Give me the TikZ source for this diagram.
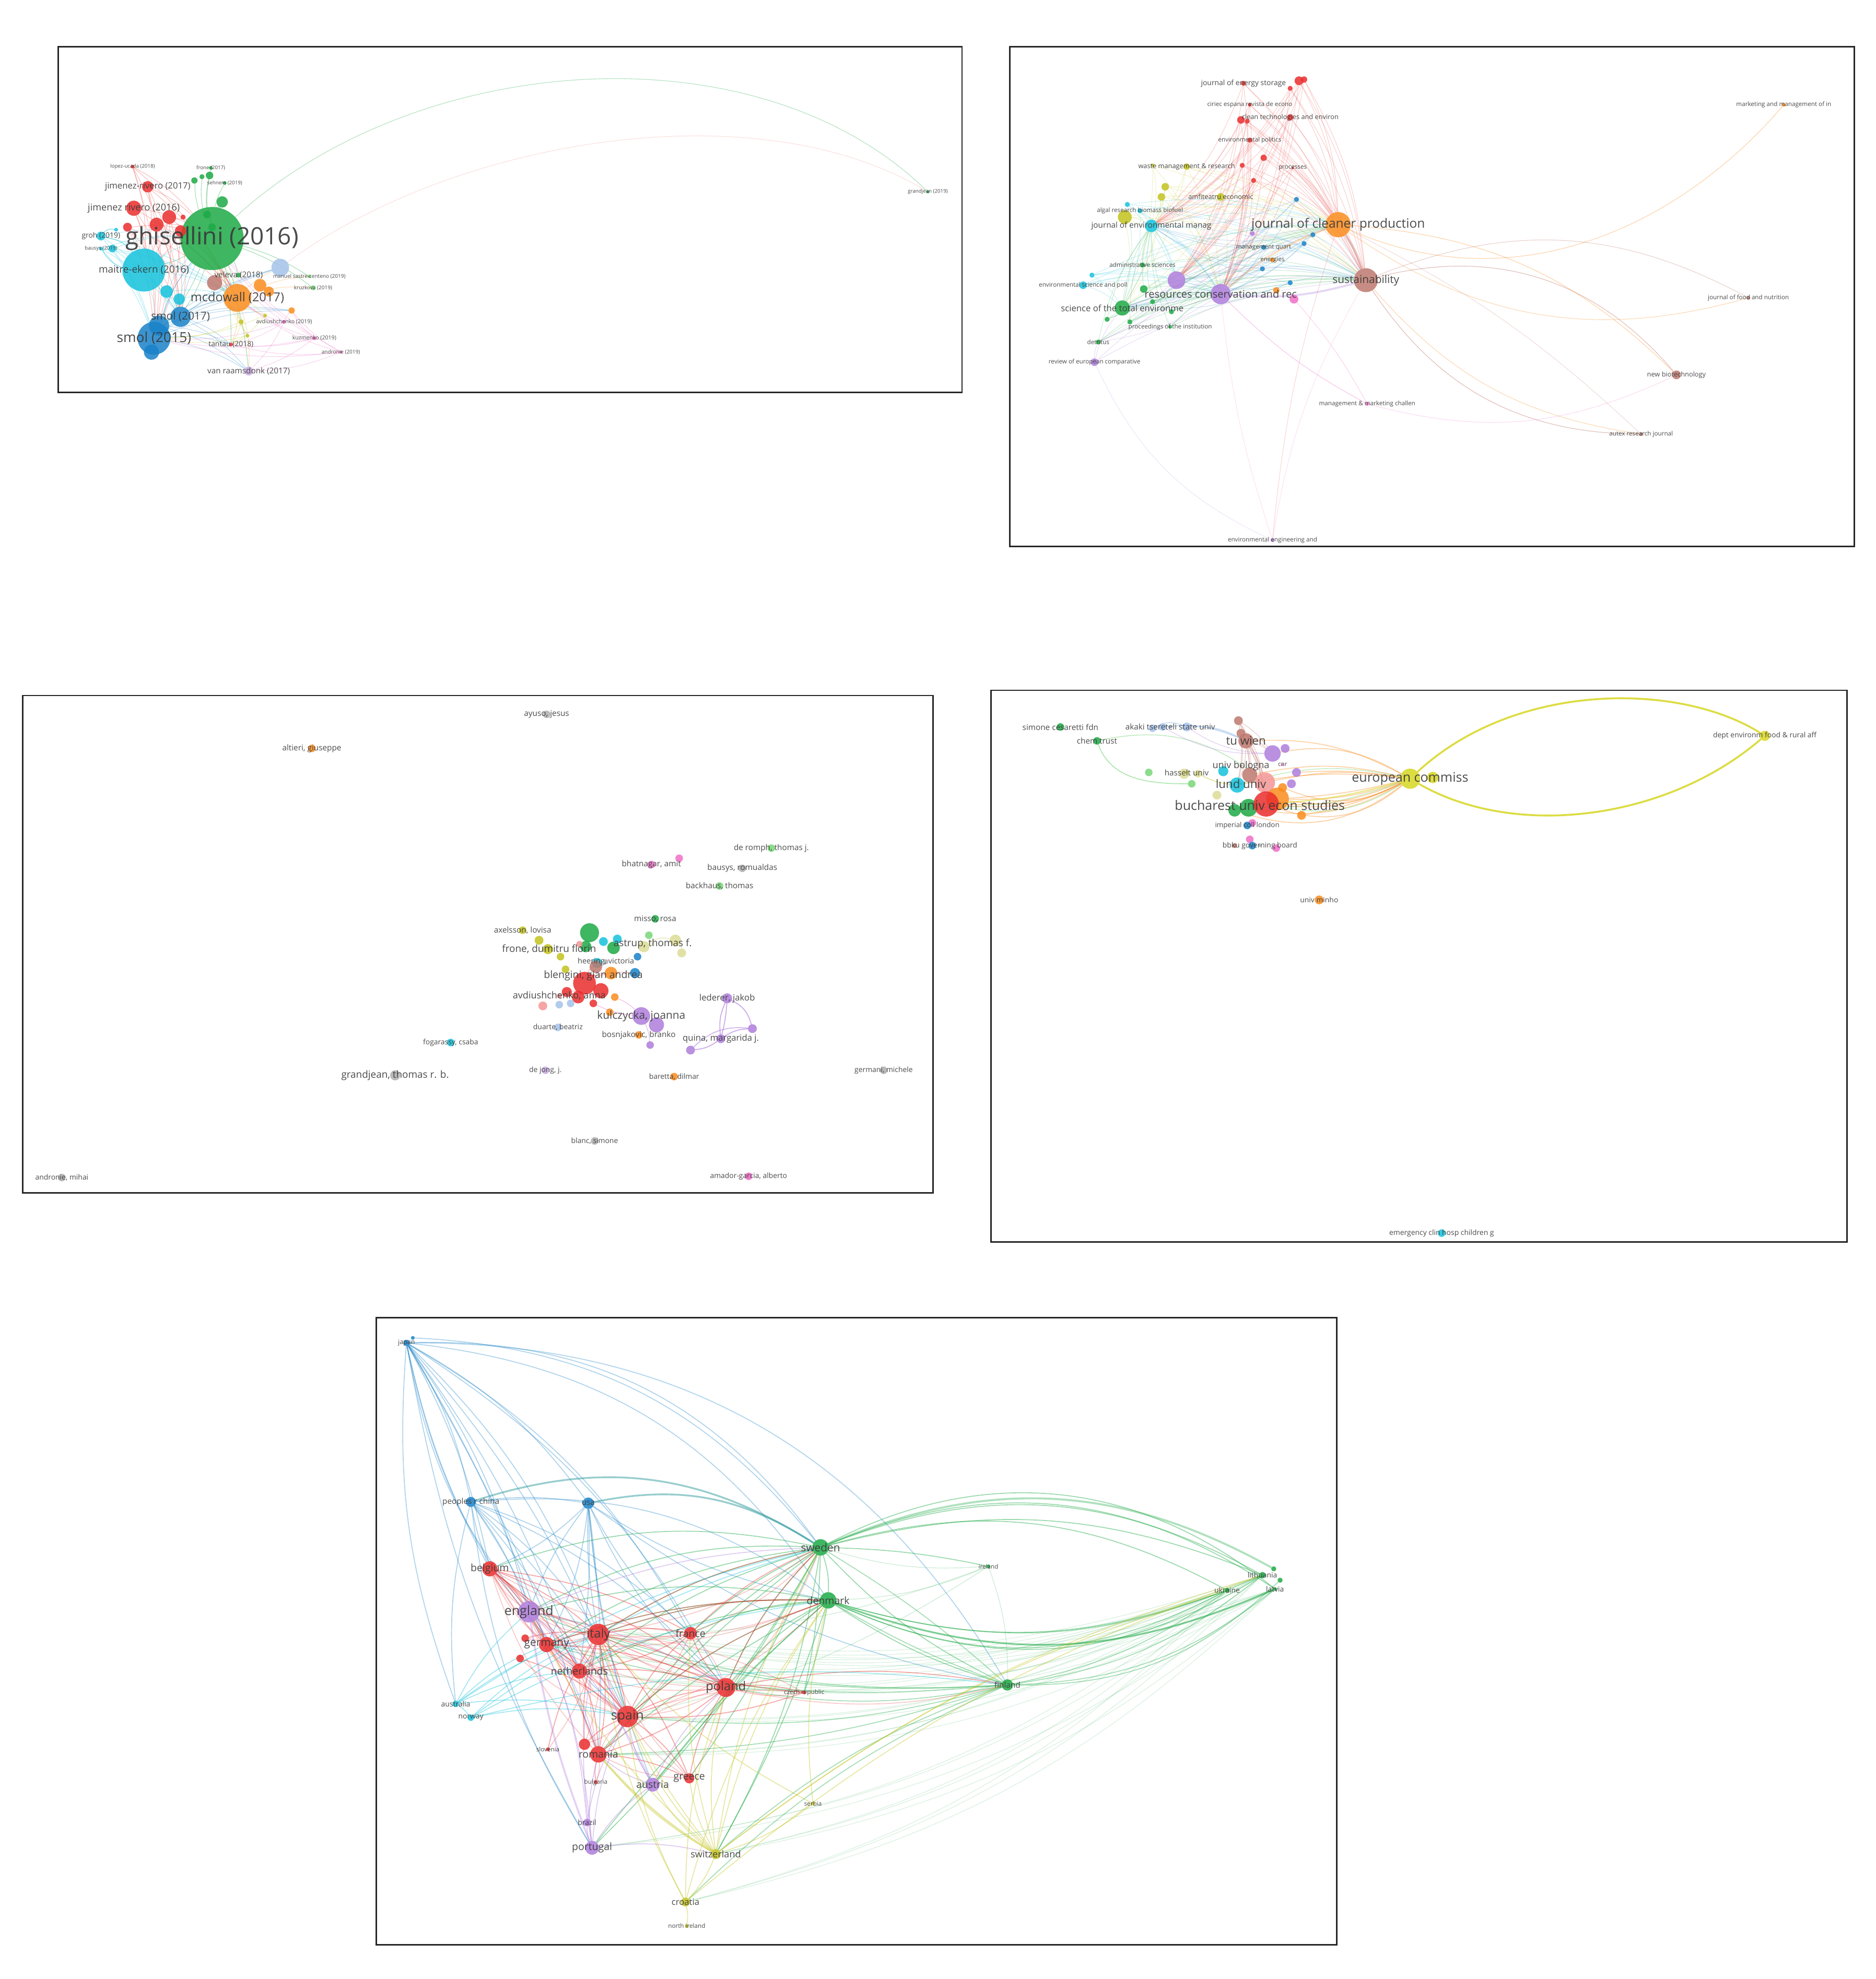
\documentclass[tikz,border=0pt]{standalone}
\usepackage{fontspec}
\setmainfont{Open Sans}
\usepackage{etoolbox}
\usetikzlibrary{backgrounds}
\definecolor{vred}{RGB}{235,45,45}
\definecolor{vgreen}{RGB}{30,170,70}
\definecolor{vblue}{RGB}{25,130,200}
\definecolor{vcyan}{RGB}{20,195,220}
\definecolor{vyellow}{RGB}{195,195,30}
\definecolor{vbyellow}{RGB}{215,215,35}
\definecolor{vpurple}{RGB}{175,125,220}
\definecolor{vlightpurple}{RGB}{200,170,225}
\definecolor{vorange}{RGB}{250,140,30}
\definecolor{vbrown}{RGB}{190,120,110}
\definecolor{vpink}{RGB}{240,110,200}
\definecolor{vlightblue}{RGB}{165,195,235}
\definecolor{vlightgreen}{RGB}{120,215,120}
\definecolor{vgray}{RGB}{175,175,175}
\definecolor{vpaleyellow}{RGB}{220,220,150}
\definecolor{vlightred}{RGB}{245,150,150}
\newcommand{\vf}[1]{\fontsize{\fpeval{1.15*#1}}{\fpeval{1.2*#1}}\selectfont}
\newcommand{\alllabels}{}
\newcommand{\vn}[6][5]{\node[vdot,fill=#5,minimum size=#4pt] (#2) at (#3) {};\gappto\alllabels{\node[vlab,font=\vf{#1}] (#2-l) at (#2) {#6};}}
\newcommand{\vd}[4]{\node[vdot,fill=#4,minimum size=#3pt] (#1) at (#2) {};}
\begin{document}
\begin{tikzpicture}[x=1pt,y=-1pt,
  vdot/.style={circle,inner sep=0pt,outer sep=0pt,draw=none,fill opacity=0.85},
  vlab/.style={text=black!78,inner sep=0pt,text opacity=0.9},
  ed/.style={line width=0.45pt,draw opacity=0.3},
  e5/.style={line width=0.7pt,draw opacity=0.35},
  pframe/.style={draw=black!85,line width=1.1pt}]
\useasboundingbox (0,0) rectangle (1486,1568);
% ---------------- Panel 1 ----------------
\vn[16.5]{gh}{168,189}{50}{vgreen}{ghisellini (2016)}
\vn[6.8]{me}{114,214}{34}{vcyan}{maitre-ekern (2016)}
\vd{s15b}{126,258}{16}{vblue}
\vd{s15c}{120,279}{12}{vblue}
\vn[9.5]{s15}{122,268}{26}{vblue}{smol (2015)}
\vn[7.5]{s17}{143,251}{16}{vblue}{smol (2017)}
\vn[8.5]{mcd}{188,236}{22}{vorange}{mcdowall (2017)}
\vd{o1a}{206,226}{10}{vorange}
\vd{o1b}{213,231}{8}{vorange}
\vd{o1c}{231,246}{5}{vorange}
\vd{br1}{170,224}{12}{vbrown}
\vn[5.5]{vel}{189,218}{4}{vgreen}{veleva (2018)}
\vd{lb1}{222,212}{14}{vlightblue}
\vn[3.6]{msc}{245,219}{3}{vlightgreen}{manuel sastre-centeno (2019)}
\vn[3.6]{kru}{248,228}{4}{vlightgreen}{kruzkova (2019)}
\vd{c1a}{132,231}{10}{vcyan}
\vd{c1b}{142,237}{9}{vcyan}
\vn[6]{jr17}{117,148}{9}{vred}{jimenez-rivero (2017)}
\vn[6.5]{jr16}{106,165}{12}{vred}{jimenez rivero (2016)}
\vd{r1a}{134,172}{11}{vred}
\vd{r1b}{124,178}{11}{vred}
\vd{r1c}{101,180}{7}{vred}
\vd{r1d}{143,183}{9}{vred}
\vd{r1e}{145,172}{4}{vred}
\vd{g1a}{176,160}{9}{vgreen}
\vd{g1b}{164,170}{6}{vgreen}
\vd{g1c}{168,180}{6}{vgreen}
\vd{g1d}{154,143}{5}{vgreen}
\vd{g1e}{160,140}{4}{vgreen}
\vd{g1f}{166,139}{6}{vgreen}
\vn[3.5]{fro}{167,133}{3}{vgreen}{frone (2017)}
\vn[3.5]{p1d}{178,145}{3}{vgreen}{sehnem (2019)}
\vn[3.5]{lop}{105,132}{3}{vred}{lopez-ucada (2018)}
\vn[5]{gro}{80,187}{7}{vcyan}{groh (2019)}
\vd{c1d}{92,182}{3}{vcyan}
\vn[3.5]{bau}{80,197}{3}{vcyan}{bausys (2019)}
\vd{c1e}{89,197}{6}{vcyan}
\vn[3.8]{avd}{225,255}{3}{vpink}{avdiushchenko (2019)}
\vn[3.8]{kuz}{249,268}{3}{vpink}{kuzmenko (2019)}
\vn[3.6]{andr1}{270,279}{2.5}{vpink}{andronie (2019)}
\vn[5]{tan}{183,273}{3}{vred}{tantau (2018)}
\vn[5.5]{vr}{197,294}{7}{vlightpurple}{van raamsdonk (2017)}
\vd{y1a}{191,255}{4}{vyellow}
\vd{y1b}{196,266}{3}{vyellow}
\vd{y1c}{210,250}{3}{vyellow}
\vn[3.5]{gj}{735,152}{2.5}{vgreen}{grandjean (2019)}
% ---------------- Panel 2 ----------------
\vn[8.8]{jcp}{1060,178}{20}{vorange}{journal of cleaner production}
\vn[7.5]{sus}{1082,222}{19}{vbrown}{sustainability}
\vd{pu2b}{932,222}{14}{vpurple}
\vn[7.2]{rcr}{967,233}{16}{vpurple}{resources conservation and rec}
\vn[6]{stoe}{889,244}{12}{vgreen}{science of the total environme}
\vd{y2d}{891,172}{11}{vyellow}
\vn[5.5]{jem}{912,179}{10}{vcyan}{journal of environmental manag}
\vn[4.2]{alg}{903,167}{4}{vcyan}{algal research biomass biofuel}
\vd{cy2c}{893,162}{4}{vcyan}
\vn[4.6]{wmr}{940,132}{5}{vyellow}{waste management \& research}
\vn[4.6]{amf}{967,156}{6}{vyellow}{amfiteatru economic}
\vd{y2a}{923,148}{6}{vyellow}
\vd{y2b}{920,156}{6}{vyellow}
\vd{y2c}{913,131}{3}{vyellow}
\vn[5]{jes}{985,66}{4}{vred}{journal of energy storage}
\vd{jesb}{1029,64}{7}{vred}
\vd{jesc}{1022,70}{4}{vred}
\vd{jesd}{1033,63}{5}{vred}
\vn[4.2]{cir}{990,83}{3}{vred}{ciriec espana revista de econo}
\vn[4.6]{ctc}{1022,93}{5}{vred}{clean technologies and environ}
\vd{r2a}{983,95}{6}{vred}
\vd{r2b}{988,96}{4}{vred}
\vn[4.2]{envp}{990,111}{4}{vred}{environmental politics}
\vd{r2c}{1001,125}{5}{vred}
\vd{r2d}{984,131}{4}{vred}
\vn[4.2]{proc}{1024,133}{2}{vred}{processes}
\vd{r2e}{993,143}{4}{vred}
\vd{b2a}{1027,158}{4}{vblue}
\vd{b2b}{1040,186}{4}{vblue}
\vd{b2c}{1033,193}{4}{vblue}
\vd{b2d}{1000,213}{4}{vblue}
\vd{b2e}{1022,224}{4}{vblue}
\vn[4.2]{mq}{1001,196}{4}{vblue}{management quart}
\vn[4.2]{ene}{1008,206}{4}{vorange}{energies}
\vd{pu2a}{992,185}{4}{vpurple}
\vn[4.2]{adm}{905,210}{4}{vgreen}{administrative sciences}
\vd{cy2a}{865,218}{4}{vcyan}
\vn[4.2]{esp}{858,226}{6}{vcyan}{environmental science and poll}
\vd{g2a}{906,229}{6}{vgreen}
\vd{or2}{1011,230}{5}{vorange}
\vd{pk2}{1025,237}{7}{vpink}
\vd{g2b}{913,239}{4}{vgreen}
\vd{g2c}{928,247}{4}{vgreen}
\vd{g2d}{877,253}{4}{vgreen}
\vd{g2e}{895,255}{4}{vgreen}
\vn[4.2]{poti}{927,259}{3}{vgreen}{proceedings of the institution}
\vn[4.2]{det}{870,271}{4}{vgreen}{detritus}
\vn[4.2]{rec}{867,287}{6}{vpurple}{review of european comparative}
\vn[4.2]{mmi}{1413,83}{3}{vorange}{marketing and management of in}
\vn[4.2]{jfn}{1385,236}{3}{vbrown}{journal of food and nutrition}
\vn[4.6]{nb}{1328,297}{7}{vbrown}{new biotechnology}
\vn[4.2]{mmc}{1083,320}{3}{vpink}{management \& marketing challen}
\vn[4.2]{arj}{1300,344}{3}{vbrown}{autex research journal}
\vn[4.2]{eea}{1008,428}{3}{vpurple}{environmental engineering and}
% ---------------- Panel 3 ----------------
\vn[5.5]{ayu}{433,566}{6}{vgray}{ayuso, jesus}
\vn[5.5]{alt}{247,593}{6}{vorange}{altieri, giuseppe}
\vn[5.5]{drt}{611,672}{6}{vlightgreen}{de romph, thomas j.}
\vn[5.5]{bha}{516,685}{6}{vpink}{bhatnagar, amit}
\vd{pk3a}{538,680}{6}{vpink}
\vn[5.5]{bau3}{588,688}{6}{vgray}{bausys, romualdas}
\vn[5.5]{bac}{570,702}{6}{vlightgreen}{backhaus, thomas}
\vn[5.5]{mis}{519,728}{6}{vgreen}{misso, rosa}
\vn[5.5]{axe}{414,737}{6}{vyellow}{axelsson, lovisa}
\vd{g3a}{467,739}{15}{vgreen}
\vd{y3a}{427,745}{7}{vyellow}
\vd{y3b}{434,752}{8}{vyellow}
\vd{y3c}{444,758}{6}{vyellow}
\vn[6.8]{fro3}{435,752}{2}{vyellow}{frone, dumitru florin}
\vd{g3b}{464,750}{9}{vgreen}
\vd{g3c}{486,751}{10}{vgreen}
\vd{g3d}{514,741}{6}{vlightgreen}
\vd{c3a}{478,746}{7}{vcyan}
\vd{c3b}{489,744}{7}{vcyan}
\vd{c3c}{473,763}{8}{vcyan}
\vd{pk3b}{459,748}{5}{vlightred}
\vd{py3a}{510,750}{9}{vpaleyellow}
\vd{py3b}{535,745}{9}{vpaleyellow}
\vd{py3c}{540,755}{7}{vpaleyellow}
\vn[6.8]{ast}{517,748}{2}{vpaleyellow}{astrup, thomas f.}
\vd{b3a}{505,758}{6}{vblue}
\vd{b3b}{503,771}{8}{vblue}
\vd{br3}{472,766}{10}{vbrown}
\vn[5.2]{hea}{480,762}{4}{vgray}{heering, victoria}
\vd{y3d}{448,768}{6}{vyellow}
\vd{r3a}{463,779}{18}{vred}
\vd{r3b}{476,785}{12}{vred}
\vd{r3c}{458,790}{10}{vred}
\vd{r3d}{449,786}{8}{vred}
\vd{r3e}{470,795}{6}{vred}
\vd{o3a}{484,771}{10}{vorange}
\vn[7]{ble}{470,773}{2}{vred}{blengini, gian andrea}
\vd{o3b}{487,790}{6}{vorange}
\vd{o3c}{483,802}{6}{vorange}
\vd{pk3c}{430,797}{7}{vlightred}
\vd{lb3a}{443,796}{6}{vlightblue}
\vd{lb3b}{452,795}{6}{vlightblue}
\vn[6.5]{avd3}{443,789}{4}{vlightred}{avdiushchenko, anna}
\vd{pu3e}{520,812}{12}{vpurple}
\vn[7.5]{kul}{508,805}{14}{vpurple}{kulczycka, joanna}
\vd{pu3f}{515,828}{6}{vpurple}
\vn[6]{led}{576,791}{8}{vpurple}{lederer, jakob}
\vd{pu3a}{596,815}{7}{vpurple}
\vn[6]{qui}{571,823}{7}{vpurple}{quina, margarida j.}
\vd{pu3d}{547,832}{7}{vpurple}
\vn[5.5]{bos}{506,820}{6}{vorange}{bosnjakovic, branko}
\vn[5]{dua}{442,814}{6}{vlightblue}{duarte, beatriz}
\vn[5]{fog}{357,826}{6}{vcyan}{fogarassy, csaba}
\vn[6.8]{grj}{313,852}{8}{vgray}{grandjean, thomas r. b.}
\vn[5]{dej}{432,848}{6}{vlightpurple}{de jong, j.}
\vn[5]{bar}{534,853}{6}{vorange}{baretta, dilmar}
\vn[5]{ger3}{700,848}{6}{vgray}{germani, michele}
\vn[5]{bla}{471,904}{6}{vgray}{blanc, simone}
\vn[5]{and3}{49,933}{6}{vgray}{andronie, mihai}
\vn[5]{ama}{593,932}{6}{vpink}{amador-garcia, alberto}
% ---------------- Panel 4 ----------------
\vn[5.5]{sim}{840,576}{6}{vgreen}{simone cesaretti fdn}
\vn[5.5]{che}{869,587}{6}{vgreen}{chem trust}
\vd{lb4a}{913,577}{6}{vlightblue}
\vd{lb4b}{921,576}{6}{vlightblue}
\vd{lb4c}{940,576}{7}{vlightblue}
\vn[5.5]{aka}{927,576}{2}{vlightblue}{akaki tsereteli state univ}
\vd{br4a}{981,571}{7}{vbrown}
\vd{br4b}{983,581}{7}{vbrown}
\vn[8]{tuw}{987,587}{12}{vbrown}{tu wien}
\vd{pu4a}{1008,597}{13}{vpurple}
\vd{pu4b}{1018,593}{7}{vpurple}
\vd{g4a}{910,612}{6}{vlightgreen}
\vd{ol4a}{938,613}{8}{vpaleyellow}
\vd{ol4b}{949,613}{6}{vpaleyellow}
\vd{lg4}{944,621}{6}{vlightgreen}
\vn[5.5]{has}{940,612}{2}{vyellow}{hasselt univ}
\vd{cy4a}{969,611}{8}{vcyan}
\vd{br4c}{990,614}{12}{vbrown}
\vd{pu4c}{1027,612}{7}{vpurple}
\vd{pu4d}{1023,621}{7}{vpurple}
\vd{pk4}{1002,620}{16}{vlightred}
\vn[6.5]{ubo}{983,607}{2}{vbrown}{univ bologna}
\vn[4.2]{cnr}{1016,606}{2}{vpink}{cnr}
\vd{cy4b}{980,622}{12}{vcyan}
\vn[8]{lun}{983,621}{2}{vcyan}{lund univ}
\vd{py4}{964,630}{7}{vpaleyellow}
\vd{or4c}{1016,624}{7}{vorange}
\vd{g4b}{989,640}{14}{vgreen}
\vd{g4c}{978,642}{10}{vgreen}
\vd{or4}{1012,633}{18}{vorange}
\vd{r4}{1003,637}{20}{vred}
\vd{or4b}{1031,646}{7}{vorange}
\vn[9]{buc}{998,638}{2}{vred}{bucharest univ econ studies}
\vd{pk4b}{992,652}{6}{vpink}
\vn[4.8]{imp}{988,654}{6}{vblue}{imperial coll london}
\vd{pk4c}{990,665}{6}{vpink}
\vd{br4d}{978,670}{4}{vbrown}
\vd{b4}{992,670}{6}{vblue}
\vd{pk4d}{1011,672}{6}{vpink}
\vn[5]{bbk}{998,670}{2}{vgray}{bbku governing board}
\vn[5]{min}{1045,713}{7}{vorange}{univ minho}
\vn[9]{euc}{1117,617}{16}{vbyellow}{european commiss}
\vd{ol4c}{1135,616}{9}{vbyellow}
\vn[5]{dep}{1398,583}{8}{vbyellow}{dept environm food \& rural aff}
\vn[5]{emg}{1142,977}{6}{vcyan}{emergency clin hosp children g}
% ---------------- Panel 5 ----------------
\vn[4.5]{jap}{322,1064}{5}{vblue}{japan}
\vd{jap2}{327,1060}{3}{vblue}
\vn[5.5]{prc}{373,1190}{8}{vblue}{peoples r china}
\vn[5.5]{usa}{466,1191}{9}{vblue}{usa}
\vn[7.5]{swe}{650,1226}{13}{vgreen}{sweden}
\vn[7]{den}{656,1268}{13}{vgreen}{denmark}
\vn[4.2]{ire}{783,1241}{3}{vgreen}{ireland}
\vn[5]{lit}{1000,1248}{5}{vgreen}{lithuania}
\vd{lit2}{1009,1243}{4}{vgreen}
\vd{lit3}{1014,1252}{4}{vgreen}
\vn[5]{ukr}{972,1260}{4}{vgreen}{ukraine}
\vn[5]{lat}{1010,1259}{3}{vgreen}{latvia}
\vn[7]{bel}{388,1243}{12}{vred}{belgium}
\vn[9]{eng}{419,1277}{17}{vpurple}{england}
\vn[8.5]{ita}{474,1295}{17}{vred}{italy}
\vd{r5a}{416,1298}{6}{vred}
\vd{r5b}{412,1314}{6}{vred}
\vn[7.5]{ger}{433,1303}{12}{vred}{germany}
\vn[7]{fra}{547,1294}{10}{vred}{france}
\vn[7]{net}{459,1324}{12}{vred}{netherlands}
\vn[8.5]{pol}{575,1337}{15}{vred}{poland}
\vn[4.2]{cze}{637,1341}{3}{vred}{czech republic}
\vn[5.5]{fin}{798,1335}{9}{vgreen}{finland}
\vn[5]{aus}{361,1350}{5}{vcyan}{australia}
\vn[5]{nor}{373,1361}{5}{vcyan}{norway}
\vn[9]{spa}{497,1360}{17}{vred}{spain}
\vd{r5c}{463,1382}{9}{vred}
\vn[4.2]{slo}{434,1386}{3}{vred}{slovenia}
\vn[7]{rom}{474,1390}{13}{vred}{romania}
\vn[4.2]{bul}{472,1412}{3}{vred}{bulgaria}
\vn[7]{aut}{517,1414}{11}{vpurple}{austria}
\vn[7]{gre}{546,1409}{8}{vred}{greece}
\vn[4.2]{ser}{644,1429}{3}{vyellow}{serbia}
\vn[5]{bra}{465,1444}{6}{vpurple}{brazil}
\vn[7]{por}{469,1464}{11}{vpurple}{portugal}
\vn[6.5]{swi}{567,1469}{8}{vyellow}{switzerland}
\vn[6]{cro}{543,1507}{7}{vyellow}{croatia}
\vn[4.2]{nir}{544,1526}{3}{vyellow}{north ireland}
% ================= EDGES =================
\begin{pgfonlayer}{background}
\fill[white] (0,0) rectangle (1486,1568);
% panel 1
\foreach \ea in {fro,g1a,g1b,g1c,g1d,g1e,g1f,p1d,kru,msc,vel,s17,s15,me,mcd,tan,vr}
  \draw[ed,vgreen,draw opacity=.4] (gh) to[bend left=8] (\ea);
\foreach \ea in {jr17,jr16,r1a,r1b,r1c,r1d,lop}
  \foreach \eb in {gh,me,mcd,s17,s15}
    \draw[ed,vred] (\ea) to[bend left=10] (\eb);
\foreach \ea in {me,c1a,c1b,gro,bau,c1e}
  \foreach \eb in {gh,mcd,s15,s17}
    \draw[ed,vcyan] (\ea) to[bend left=10] (\eb);
\draw[ed,vcyan,draw opacity=.6] (gro) to[bend left=20] (me);
\draw[ed,vcyan,draw opacity=.6] (bau) to[bend right=20] (me);
\draw[ed,vcyan,draw opacity=.6] (gro) to[bend left=30] (c1d);
\foreach \ea in {s15,s15b,s17}
  \foreach \eb in {gh,mcd,tan,vr,lb1,o1c}
    \draw[ed,vblue] (\ea) to[bend left=10] (\eb);
\foreach \ea in {avd,kuz,andr1}
  \foreach \eb in {mcd,gh,tan,o1c,s15,vr}
    \draw[ed,vpink] (\ea) to[bend left=10] (\eb);
\foreach \eb in {gh,lb1,kru,tan,vr,msc}
  \draw[ed,vorange] (mcd) to[bend left=10] (\eb);
\foreach \ea in {y1a,y1b,y1c}
  \foreach \eb in {gh,mcd,s15,tan}
    \draw[ed,vyellow] (\ea) to[bend left=10] (\eb);
\draw[ed,vgreen,draw opacity=.35] (gh) .. controls (330,40) and (600,20) .. (gj);
\draw[ed,vlightred,draw opacity=.3] (lb1) .. controls (360,110) and (600,70) .. (gj);
% panel 2
\foreach \ea in {jes,jesb,jesc,jesd,cir,ctc,r2a,r2b,envp,r2c,r2d,r2e,proc}
  \foreach \eb in {jcp,sus,rcr,jem,pu2b}
    \draw[ed,vred,draw opacity=.22] (\ea) to[bend left=12] (\eb);
\foreach \ea in {wmr,amf,y2a,y2b,y2c,y2d}
  \foreach \eb in {jcp,sus,rcr,jem,stoe}
    \draw[ed,vyellow,draw opacity=.22] (\ea) to[bend left=12] (\eb);
\foreach \ea in {alg,jem,cy2a,cy2c,esp}
  \foreach \eb in {jcp,sus,rcr,stoe,pu2b}
    \draw[ed,vcyan,draw opacity=.22] (\ea) to[bend left=12] (\eb);
\foreach \ea in {b2a,b2b,b2c,b2d,b2e,mq}
  \foreach \eb in {sus,rcr,jem,stoe,pu2b}
    \draw[ed,vblue,draw opacity=.22] (\ea) to[bend left=12] (\eb);
\foreach \ea in {adm,stoe,g2a,g2b,g2c,g2d,g2e,poti,det}
  \foreach \eb in {jcp,sus,rcr,jem}
    \draw[ed,vgreen,draw opacity=.22] (\ea) to[bend left=12] (\eb);
\foreach \ea in {rcr,pu2b,pu2a,rec}
  \foreach \eb in {jcp,sus,stoe,det}
    \draw[ed,vpurple,draw opacity=.25] (\ea) to[bend left=12] (\eb);
\draw[vbrown,line width=2pt,draw opacity=.35] (jcp) to[bend left=8] (sus);
\draw[vpurple,line width=1.6pt,draw opacity=.3] (rcr) to[bend right=10] (sus);
\draw[vorange,line width=1.2pt,draw opacity=.3] (rcr) to[bend left=10] (jcp);
\draw[ed,vorange,draw opacity=.4] (jcp) .. controls (1200,240) and (1330,180) .. (mmi);
\draw[ed,vbrown,draw opacity=.35] (sus) to[bend left=25] (jfn);
\draw[ed,vorange,draw opacity=.35] (jcp) to[bend right=25] (jfn);
\draw[ed,vbrown,draw opacity=.5] (sus) to[bend left=32] (nb);
\draw[ed,vorange,draw opacity=.4] (jcp) to[bend left=20] (nb);
\draw[ed,vbrown,draw opacity=.5] (sus) to[bend right=28] (arj);
\draw[ed,vorange,draw opacity=.35] (sus) to[bend right=20] (arj);
\draw[ed,vbrown,draw opacity=.25] (jcp) to[bend left=8] (arj);
\draw[ed,vpink,draw opacity=.25] (nb) to[bend left=20] (mmc);
\draw[ed,vpink,draw opacity=.4] (rcr) to[bend right=8] (mmc);
\draw[ed,vpink,draw opacity=.3] (pk2) to[bend left=6] (mmc);
\draw[ed,vpink,draw opacity=.2] (rcr) to[bend right=6] (eea);
\draw[ed,vpink,draw opacity=.2] (sus) to[bend right=10] (eea);
\draw[ed,vpurple,draw opacity=.2] (rec) to[bend right=20] (eea);
\draw[ed,vred,draw opacity=.2] (jcp) to[bend right=6] (eea);
% panel 3
\draw[vpurple,line width=.8pt,draw opacity=.6] (led) to[bend left=25] (pu3a);
\draw[vpurple,line width=.8pt,draw opacity=.6] (led) to[bend right=15] (qui);
\draw[vpurple,line width=.8pt,draw opacity=.6] (led) to[bend left=5] (qui);
\draw[vpurple,line width=.8pt,draw opacity=.6] (pu3a) to[bend right=15] (qui);
\draw[vpurple,line width=.8pt,draw opacity=.6] (qui) to[bend left=15] (pu3d);
\draw[vpurple,line width=.8pt,draw opacity=.5] (pu3a) to[bend right=25] (pu3d);
\draw[ed,vpink,draw opacity=.5] (kul) to[bend right=10] (o3b);
\draw[ed,vpink,draw opacity=.5] (kul) to[bend left=10] (r3e);
\draw[ed,vpurple,draw opacity=.5] (kul) to[bend left=10] (pu3f);
\draw[ed,vpaleyellow,draw opacity=.8] (py3a) to[bend left=25] (py3b);
\draw[ed,vpaleyellow,draw opacity=.8] (py3b) to[bend left=25] (py3c);
\foreach \ea in {r3b,r3c,r3d,r3e,o3a,c3c,b3b}
  \draw[ed,vred,draw opacity=.4] (r3a) to[bend left=15] (\ea);
% panel 4
\draw[vbyellow,line width=1.5pt,draw opacity=.85] (euc) .. controls (1200,540) and (1330,540) .. (dep);
\draw[vbyellow,line width=1.5pt,draw opacity=.85] (euc) .. controls (1200,665) and (1320,650) .. (dep);
\foreach \ea/\ek in {r4/-12,or4/-18,or4b/-8,tuw/15,pk4/10,cy4b/8,g4b/-20,pu4a/20,br4c/12,or4c/-25,pu4c/6,g4c/-28,r4/-30,or4/-5,or4/-10,r4/-16}
  \draw[vorange,line width=.7pt,draw opacity=.4] (\ea) to[bend left=\ek] (euc);
\foreach \ea/\ek in {g4b/-10,cy4b/14,r4/-22}
  \draw[vlightgreen,line width=.7pt,draw opacity=.4] (\ea) to[bend left=\ek] (euc);
\draw[vbyellow,line width=.9pt,draw opacity=.6] (r4) to[bend right=6] (euc);
\draw[vlightgreen,line width=.7pt,draw opacity=.6] (che) to[out=-70,in=180] (lg4);
\draw[vlightgreen,line width=.6pt,draw opacity=.5] (che) to[bend left=25] (pk4);
\draw[vyellow,line width=.6pt,draw opacity=.5] (ol4b) to[bend right=10] (cy4b);
\foreach \ea in {lb4a,lb4b,lb4c}
  \draw[vlightblue,line width=.6pt,draw opacity=.6] (\ea) to[bend left=15] (tuw);
\draw[vlightblue,line width=.6pt,draw opacity=.6] (lb4a) to[bend left=25] (lb4c);
\foreach \ea in {br4a,br4b,tuw}
  \foreach \eb in {br4c,pk4,r4,cy4b,pu4a}
    \draw[ed,vbrown,draw opacity=.4] (\ea) to[bend left=10] (\eb);
\foreach \ea in {lb4c,lb4b}
  \draw[ed,vpurple,draw opacity=.4] (\ea) to[bend right=15] (pu4a);
% panel 5
\foreach \eb/\ek in {prc/10,usa/12,bel/8,eng/10,ita/12,ger/6,net/8,spa/10,pol/14,fra/15,aus/-12,por/-10,rom/5,den/25,swe/28,fin/30,bel/-8,eng/-14,spa/-18}
  \draw[e5,vblue] (jap) to[bend left=\ek] (\eb);
\draw[e5,vblue] (jap2) to[bend left=24] (swe);
\foreach \eb/\ek in {bel/10,eng/-8,ita/-6,ger/10,net/5,spa/-5,fra/-10,pol/-12,rom/5,aut/-8,den/-10,fin/-12}
  \draw[e5,vblue] (usa) to[bend left=\ek] (\eb);
\draw[vblue!60!vgreen,line width=1.4pt,draw opacity=.45] (usa) to[bend left=22] (swe);
\draw[vblue!60!vgreen,line width=1.4pt,draw opacity=.45] (prc) to[bend left=25] (swe);
\draw[e5,vblue] (prc) to[bend left=20] (den);
\draw[e5,vblue] (prc) to[bend left=8] (usa);
\foreach \eb/\ek in {bel/-5,eng/8,ita/10,ger/6,net/8,spa/10,aus/-10,por/-12,pol/12,fra/12}
  \draw[e5,vblue] (prc) to[bend left=\ek] (\eb);
\foreach \eb/\ek in {lit/25,ukr/22,lat/28,fin/-10,den/10,ire/5,ita/-10,eng/-15,ger/-12,net/-10,spa/-8,pol/-10,bel/-15,fra/-8,swi/10,por/8,cze/5,rom/-5,aut/5,gre/5,lit/18,lat/33}
  \draw[e5,vgreen,draw opacity=.45] (swe) to[bend left=\ek] (\eb);
\foreach \eb/\ek in {lit/-20,ukr/-18,lat/-22,fin/-8,ita/-10,spa/-10,pol/-8,eng/-12,ger/-10,net/-10,fra/-10,rom/-5,aut/-5,swi/5,por/-5,cze/5,lit/-28,ukr/-26}
  \draw[e5,vgreen,draw opacity=.45] (den) to[bend left=\ek] (\eb);
\draw[vgreen,line width=1.6pt,draw opacity=.35] (den) to[bend right=22] (lat);
\draw[vgreen,line width=1.6pt,draw opacity=.35] (swe) to[bend left=26] (lit2);
\foreach \eb/\ek in {lit/-15,ukr/-12,lat/-18,ita/10,spa/10,pol/10,eng/12,ger/10,swi/-10,rom/8,cro/-10,den/5,swe/-5,lit3/-22}
  \draw[e5,vgreen,draw opacity=.4] (fin) to[bend left=\ek] (\eb);
\foreach \ea in {lit,ukr,lat}
  \foreach \eb in {ita,spa,pol,eng,ger,net,rom,por,swi,cro}
    \draw[ed,vgreen,draw opacity=.18] (\ea) to[bend left=15] (\eb);
\foreach \eb in {swe,den,fin,ita,spa}
  \draw[ed,vgreen,draw opacity=.25] (ire) to[bend left=10] (\eb);
\foreach \ea/\eb in {bel/eng,bel/ita,bel/ger,bel/net,bel/spa,bel/fra,bel/pol,eng/ita,eng/ger,eng/net,ita/ger,ita/net,ita/spa,ita/fra,ita/pol,ita/rom,ita/gre,ger/net,ger/spa,net/spa,net/pol,net/rom,spa/pol,spa/rom,spa/fra,spa/gre,pol/fra,pol/rom,pol/cze,rom/gre,fra/net,r5a/ita,r5b/spa,r5c/spa,r5c/ita,slo/ita,bul/rom,gre/pol,cze/ita,cze/spa,bel/rom,ger/pol,ita/den,spa/den,pol/swe,pol/fin,fra/swe,ita/swe,ger/den}
  {\draw[e5,vred,draw opacity=.42] (\ea) to[bend left=10] (\eb);
   \draw[e5,vred,draw opacity=.25] (\ea) to[bend right=12] (\eb);}
\foreach \ea/\eb in {eng/por,eng/aut,eng/bra,por/bra,por/spa,por/ita,por/aut,por/rom,aut/ita,aut/rom,aut/spa,bra/spa,eng/spa,eng/rom,por/swi,aut/pol,eng/pol,eng/swe}
  \draw[e5,vpurple,draw opacity=.4] (\ea) to[bend left=10] (\eb);
\draw[vpurple,line width=1.5pt,draw opacity=.35] (eng) to[bend right=6] (por);
\foreach \ea/\eb in {swi/ita,swi/spa,swi/cro,swi/pol,swi/rom,swi/eng,swi/fra,swi/aut,swi/gre,cro/ita,cro/spa,cro/nir,cro/pol,ser/swi,ser/ita,swi/den,swi/swe,cro/den,ser/den,swi/lit,swi/ukr,cro/lit}
  \draw[e5,vyellow,draw opacity=.4] (\ea) to[bend left=10] (\eb);
\draw[vyellow,line width=1.5pt,draw opacity=.4] (swi) to[bend left=8] (rom);
\foreach \ea/\eb in {aus/nor,aus/eng,aus/ita,aus/spa,aus/ger,nor/spa,nor/ita,nor/swe,nor/den,aus/net,nor/fin,aus/swe}
  \draw[e5,vcyan,draw opacity=.4] (\ea) to[bend left=10] (\eb);
\end{pgfonlayer}
\alllabels
% frames
\draw[pframe] (46,37) rectangle (762,311);
\draw[pframe] (800,37) rectangle (1469,433);
\draw[pframe] (18,551) rectangle (739,945);
\draw[pframe] (785,547) rectangle (1463,984);
\draw[pframe] (298,1044) rectangle (1059,1541);
\end{tikzpicture}
\end{document}
